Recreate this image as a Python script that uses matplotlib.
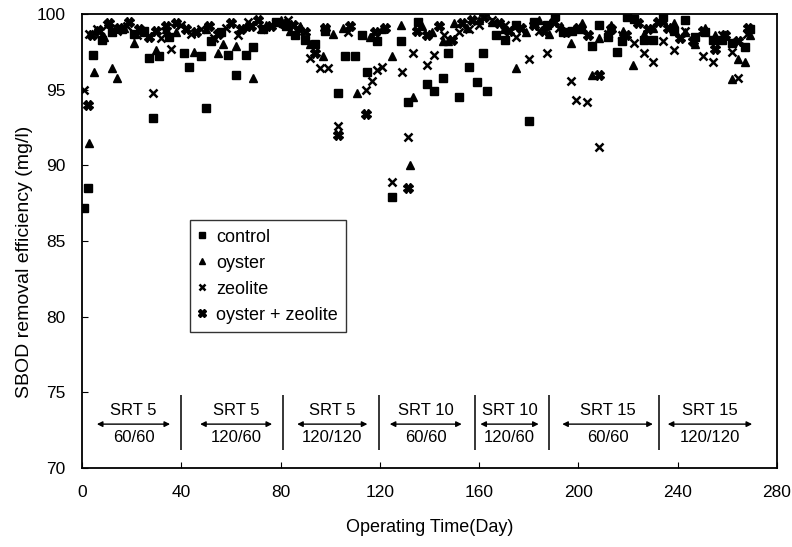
import matplotlib
matplotlib.use("Agg")
import matplotlib.pyplot as plt

plt.rcParams['font.family'] = ['Liberation Sans', 'DejaVu Sans']

# control
ctl_day = [1, 2.5, 4.4, 8, 12, 16, 21, 25, 27, 28.6, 31, 35, 41, 43, 48, 50, 52, 56, 59, 62,
           66, 69, 73, 78, 82, 86, 90, 94, 98, 103, 106, 110, 113, 115, 119, 125, 128.6, 131.5,
           135.5, 139, 142, 145.5, 147.6, 152, 156, 159, 161.7, 163, 167, 170.5, 175, 180, 182,
           187.5, 190.7, 194, 197.6, 201, 205.6, 208.5, 212, 215.7, 217.7, 219.4, 222.6, 226.6,
           230, 234, 238.7, 243, 247, 251, 254.4, 258, 262, 267, 269]
ctl_val = [87.2, 88.5, 97.3, 98.3, 98.8, 99.0, 98.7, 98.9, 97.1, 93.1, 97.2, 98.5, 97.4, 96.5, 97.2, 93.8, 98.2, 98.8, 97.3, 96.0,
           97.3, 97.8, 99.0, 99.5, 99.2, 98.6, 98.3, 98.0, 98.9, 94.8, 97.2, 97.2, 98.6, 96.2, 98.2, 87.9, 98.2, 94.2,
           99.5, 95.4, 94.9, 95.8, 97.4, 94.5, 96.5, 95.5, 97.4, 94.9, 98.6, 98.3, 99.3, 92.9, 99.5,
           99.3, 99.9, 98.8, 98.9, 99.0, 97.9, 99.3, 98.5, 97.5, 98.2, 99.8, 99.7, 98.3,
           98.3, 99.8, 98.9, 99.6, 98.5, 98.8, 98.3, 98.3, 98.1, 97.8, 99.0]

# oyster
oys_day = [2.8, 5, 9, 12, 14, 17, 21, 25, 30, 34, 38, 45, 50, 55, 57, 62, 66, 69, 74, 80,
           84, 88, 92, 97, 101, 105, 111, 116, 121, 125, 128.6, 132, 133.5, 137, 141, 145.5,
           147.6, 150, 155, 160, 165, 170, 175, 179, 184, 188, 193, 197, 201.6, 205.6, 208.5,
           213, 218, 222, 226.6, 230, 234, 238.7, 243, 247, 251, 255, 262, 264.5, 267, 269]
oys_val = [91.5, 96.2, 98.5, 96.4, 95.8, 99.1, 98.1, 98.8, 97.6, 99.0, 98.8, 97.5, 99.0, 97.4, 98.0, 97.9, 99.2, 95.8, 99.3, 99.6,
           98.9, 99.2, 98.0, 97.2, 98.7, 99.1, 94.8, 98.5, 99.0, 97.2, 99.3, 90.0, 94.5, 99.2, 98.8, 98.2,
           98.2, 99.4, 99.1, 99.6, 99.5, 99.0, 96.4, 98.8, 99.6, 98.7, 99.2, 98.1, 99.4, 96.0, 98.4,
           99.3, 98.9, 96.6, 98.7, 99.1, 99.6, 99.4, 98.8, 98.0, 99.1, 98.6, 95.7, 97.0, 96.8, 98.6]

# zeolite
zeo_day = [1, 3, 6, 10, 14, 18, 22, 28.6, 32, 36, 40, 44, 48, 53, 58, 63, 67, 72, 78, 83,
           87, 92, 96, 99, 103, 107, 114.5, 117, 119, 121, 125, 129, 131.5, 133.5, 139, 142,
           146, 152, 156, 160, 165, 170.5, 175, 180, 184, 187.5, 192, 197, 199, 203.6, 208.5,
           212, 217.7, 222.6, 226.6, 230, 234, 238.7, 243, 250.4, 254.4, 258, 262, 264.5, 268]
zeo_val = [95.0, 98.7, 99.0, 99.3, 98.9, 99.2, 98.6, 94.8, 98.4, 97.7, 99.3, 98.7, 99.0, 98.4, 99.1, 98.6, 99.5, 99.0, 99.4, 99.6,
           99.0, 97.1, 96.4, 96.4, 92.6, 98.8, 95.0, 95.6, 96.3, 96.5, 88.9, 96.2, 91.9, 97.4, 96.6, 97.3,
           98.6, 98.8, 99.0, 99.3, 99.6, 99.3, 98.5, 97.0, 98.9, 97.4, 99.1, 95.6, 94.3, 94.2, 91.2,
           98.7, 98.6, 98.1, 97.4, 96.8, 98.2, 97.6, 98.9, 97.2, 96.8, 98.6, 97.5, 95.8, 98.7]

# oyster + zeolite
oz_day = [2.5, 4, 7, 11, 15, 19, 23, 27, 30, 34, 38, 42, 46, 51, 55, 60, 64, 68, 71, 76,
          81, 85, 90, 94, 98, 103, 108, 114.5, 118, 122, 131.5, 135, 139, 144, 149, 153, 157,
          162, 168, 172, 177, 182, 186, 190, 195, 200, 204, 208.5, 213, 219, 224, 228, 232,
          236, 241, 246, 250.4, 255, 259, 264.5, 268.5]
oz_val = [94.0, 98.6, 98.9, 99.4, 99.1, 99.5, 99.0, 98.5, 98.9, 99.2, 99.4, 99.0, 98.8, 99.2, 98.7, 99.4, 99.0, 99.2, 99.6, 99.2,
          99.4, 99.3, 98.8, 97.4, 99.1, 92.0, 99.2, 93.4, 98.8, 99.1, 88.5, 98.9, 98.6, 99.2, 98.3, 99.4, 99.6,
          99.8, 99.4, 98.9, 99.1, 99.3, 98.9, 99.5, 98.8, 99.1, 98.6, 96.0, 99.0, 98.6, 99.4, 99.0, 99.5,
          99.1, 98.4, 98.2, 98.9, 97.7, 98.6, 98.2, 99.1]

# operating phases
phase_top = ["SRT 5", "SRT 5", "SRT 5", "SRT 10", "SRT 10", "SRT 15", "SRT 15"]
phase_bot = ["60/60", "120/60", "120/120", "60/60", "120/60", "60/60", "120/120"]
arrow_start = [6, 47.6, 86.7, 124, 160.5, 193.5, 236]
arrow_end = [35.5, 76.6, 115, 153, 184, 230, 270]
dividers = [40, 81, 119.5, 158.5, 188, 232.5]

fig = plt.figure(figsize=(7.92, 5.47), dpi=100)
ax = fig.add_axes([0.1035, 0.1444, 0.8775, 0.8300])

ax.plot(ctl_day, ctl_val, 's', color='black', ms=5.5, ls='none', label='control')
ax.plot(oys_day, oys_val, '^', color='black', ms=6, ls='none', label='oyster')
ax.plot(zeo_day, zeo_val, 'x', color='black', ms=5.5, mew=1.8, ls='none', label='zeolite')
ax.plot(oz_day, oz_val, 'X', color='black', ms=7, ls='none', label='oyster + zeolite')

ylo, yhi = 71.2, 74.8
ax.vlines(dividers, ylo, yhi, color='black', lw=1.1)
for a, b, t1, t2 in zip(arrow_start, arrow_end, phase_top, phase_bot):
    ax.annotate('', xy=(a, 72.9), xytext=(b, 72.9),
                arrowprops=dict(arrowstyle='<|-|>', color='black', lw=1,
                                mutation_scale=8, shrinkA=0, shrinkB=0))
    xm = (a + b) / 2
    ax.text(xm, 73.8, t1, ha='center', va='center', fontsize=12)
    ax.text(xm, 72.0, t2, ha='center', va='center', fontsize=12)

ax.set_xlim(0, 280)
ax.set_ylim(70, 100)
ax.set_xticks(range(0, 281, 40))
ax.set_yticks(range(70, 101, 5))
ax.tick_params(direction='in', labelsize=12.5, length=4)
ax.tick_params(axis='y', pad=12)
ax.tick_params(axis='x', pad=12)
for s in ax.spines.values():
    s.set_linewidth(1.3)

ax.set_xlabel('Operating Time(Day)', fontsize=13, labelpad=14)
ax.set_ylabel('SBOD removal efficiency (mg/l)', fontsize=14, labelpad=4)
ax.yaxis.set_label_coords(-0.07, 0.455)

leg = ax.legend(loc='lower left', bbox_to_anchor=(0.155, 0.30), fontsize=13,
                frameon=True, fancybox=False, handlelength=0.5, handletextpad=0.5,
                borderpad=0.45, labelspacing=0.5, markerscale=0.75, borderaxespad=0)
leg.get_frame().set_edgecolor('black')
leg.get_frame().set_linewidth(1)

fig.savefig('out.png', dpi=100)
